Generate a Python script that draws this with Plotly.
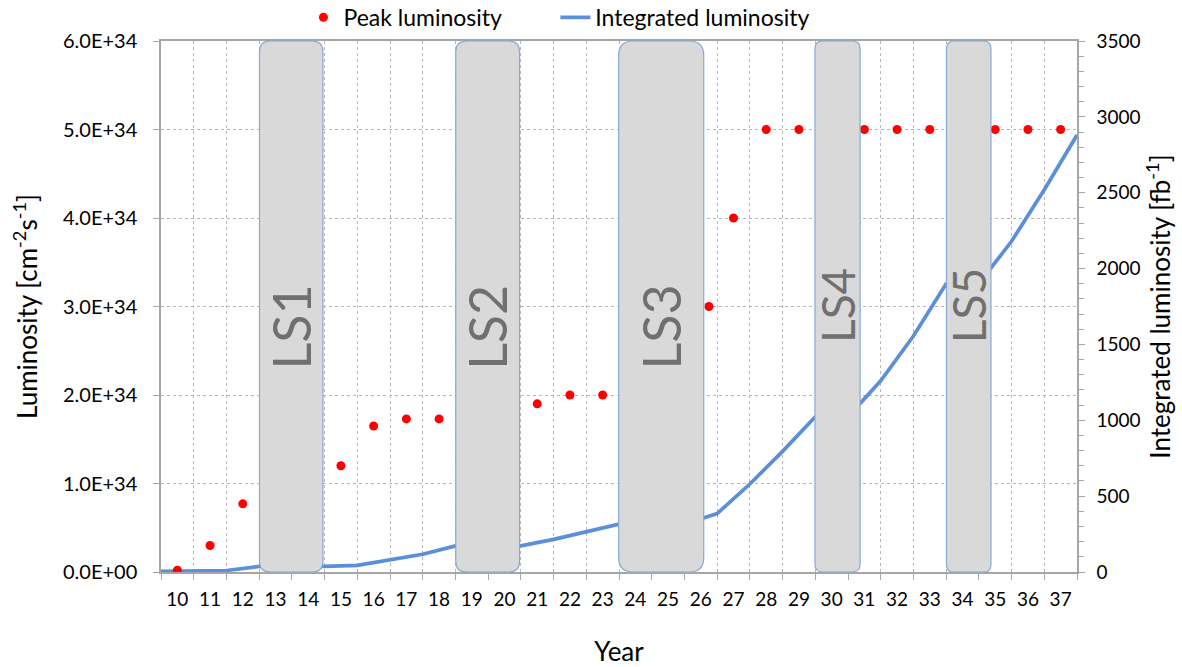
import plotly.graph_objects as go

# ---- data -------------------------------------------------------------
years = list(range(10, 38))
year_labels = [str(y) for y in years]

# peak luminosity per year [cm^-2 s^-1]
peak_years = [10, 11, 12, 15, 16, 17, 18, 21, 22, 23, 26.25, 27,
              28, 29, 31, 32, 33, 35, 36, 37]
peak_lumi = [0.02e34, 0.30e34, 0.77e34, 1.20e34, 1.65e34, 1.73e34, 1.73e34,
             1.90e34, 2.00e34, 2.00e34, 3.00e34, 4.00e34,
             5.00e34, 5.00e34, 5.00e34, 5.00e34, 5.00e34, 5.00e34, 5.00e34, 5.00e34]

# integrated luminosity [fb^-1] at each year boundary (start of 2010 ... end of 2037)
year_edges = [y - 0.5 for y in years] + [years[-1] + 0.5]
int_lumi = [5, 8, 10, 37, 37, 37, 44, 82, 117, 172, 172, 172, 215, 262,
            315, 315, 315, 385, 580, 795, 1023, 1023, 1260, 1555,
            1900, 1900, 2180, 2520, 2880]

# long shutdowns (in year units)
shutdown_names = ["LS1", "LS2", "LS3", "LS4", "LS5"]
shutdown_start = [12.51, 18.51, 23.49, 29.49, 33.51]
shutdown_end = [14.45, 20.46, 26.09, 30.87, 34.87]

left_ticks = [0, 1e34, 2e34, 3e34, 4e34, 5e34, 6e34]
left_ticktext = ["0.0E+00", "1.0E+34", "2.0E+34", "3.0E+34", "4.0E+34", "5.0E+34", "6.0E+34"]

# ---- styling ----------------------------------------------------------
FONT = "Lato"
AXIS_COLOR = "#a6a6a6"
GRID_COLOR = "#b8b8b8"
LINE_BLUE = "#5b8fd9"
label_y = [0.461, 0.461, 0.461, 0.502, 0.502]
label_size = [52, 52, 52, 46, 46]

fig = go.Figure()

fig.add_trace(go.Scatter(
    x=year_edges, y=int_lumi, mode="lines", name="Integrated luminosity",
    line=dict(color=LINE_BLUE, width=3.7), xaxis="x", yaxis="y",
    legend="legend2",
))
fig.add_trace(go.Scatter(
    x=peak_years, y=peak_lumi, mode="markers", name="Peak luminosity",
    marker=dict(color="#ff0000", size=9), xaxis="x", yaxis="y2",
    legend="legend",
))

# rounded grey boxes for the shutdowns
px_per_year = 915.5 / 28.0
px_per_paper = 530.4
shapes = []
annotations = []
for name, x0, x1, ly, ls in zip(shutdown_names, shutdown_start, shutdown_end,
                                label_y, label_size):
    w = x1 - x0
    rx = 0.17 * w
    ry = rx * px_per_year / px_per_paper
    path = (
        f"M {x0 + rx},0 L {x1 - rx},0 Q {x1},0 {x1},{ry} "
        f"L {x1},{1 - ry} Q {x1},1 {x1 - rx},1 "
        f"L {x0 + rx},1 Q {x0},1 {x0},{1 - ry} "
        f"L {x0},{ry} Q {x0},0 {x0 + rx},0 Z"
    )
    shapes.append(dict(
        type="path", path=path, xref="x", yref="paper",
        fillcolor="#d9d9d9", line=dict(color="#86a9d6", width=1.2),
        layer="above",
    ))
    annotations.append(dict(
        x=(x0 + x1) / 2, y=ly, xref="x", yref="paper", text=name,
        showarrow=False, textangle=-90,
        font=dict(family=FONT, size=ls, color="#707070"),
    ))

legend_style = dict(
    orientation="h", xanchor="left",
    yref="container", y=0.974, yanchor="middle",
    font=dict(family=FONT, size=23, color="#000000"),
    bgcolor="rgba(0,0,0,0)", itemwidth=30,
)

fig.update_layout(
    width=1182, height=667,
    margin=dict(l=161, r=105, t=41, b=95, autoexpand=False),
    paper_bgcolor="white", plot_bgcolor="white",
    font=dict(family=FONT, size=18, color="#000000"),
    shapes=shapes, annotations=annotations,
    showlegend=True,
    legend=dict(x=0.1555, **legend_style),
    legend2=dict(x=0.4305, **legend_style),
    xaxis=dict(
        range=[9.5, 37.5], tickmode="array", tickvals=years, ticktext=year_labels,
        ticks="", showgrid=False, zeroline=False,
        showline=True, linecolor=AXIS_COLOR, linewidth=1.5, mirror=True,
        tickfont=dict(family=FONT, size=19, color="#000000"),
        ticklabelstandoff=9,
        minor=dict(tickmode="array", tickvals=year_edges, ticks="outside",
                   ticklen=6, tickcolor=AXIS_COLOR, tickwidth=1,
                   showgrid=True, gridcolor=GRID_COLOR, griddash="dot", gridwidth=1),
        title=dict(text="Year", font=dict(family=FONT, size=26), standoff=34),
    ),
    yaxis=dict(
        side="right", range=[0, 3500], tickmode="linear", tick0=0, dtick=500,
        ticks="outside", ticklen=6, tickcolor=AXIS_COLOR,
        showline=True, linecolor=AXIS_COLOR, linewidth=1.5,
        showgrid=False, zeroline=False,
        tickfont=dict(family=FONT, size=19, color="#000000"),
        ticklabelstandoff=8,
        minor=dict(dtick=100, ticks="outside", ticklen=5, tickcolor=AXIS_COLOR, showgrid=False),
        title=dict(text="Integrated luminosity [fb<sup>-1</sup>]",
                   font=dict(family=FONT, size=26), standoff=10),
    ),
    yaxis2=dict(
        overlaying="y", side="left", range=[0, 6e34],
        tickmode="array", tickvals=left_ticks, ticktext=left_ticktext,
        ticks="outside", ticklen=6, tickcolor=AXIS_COLOR,
        showline=True, linecolor=AXIS_COLOR, linewidth=1.5,
        showgrid=True, gridcolor=GRID_COLOR, griddash="dot", gridwidth=1,
        zeroline=False,
        tickfont=dict(family=FONT, size=20, color="#000000"),
        ticklabelstandoff=12,
        title=dict(text="Luminosity [cm<sup>-2</sup>s<sup>-1</sup>]",
                   font=dict(family=FONT, size=26), standoff=18),
    ),
)

fig.write_html("out.html")
